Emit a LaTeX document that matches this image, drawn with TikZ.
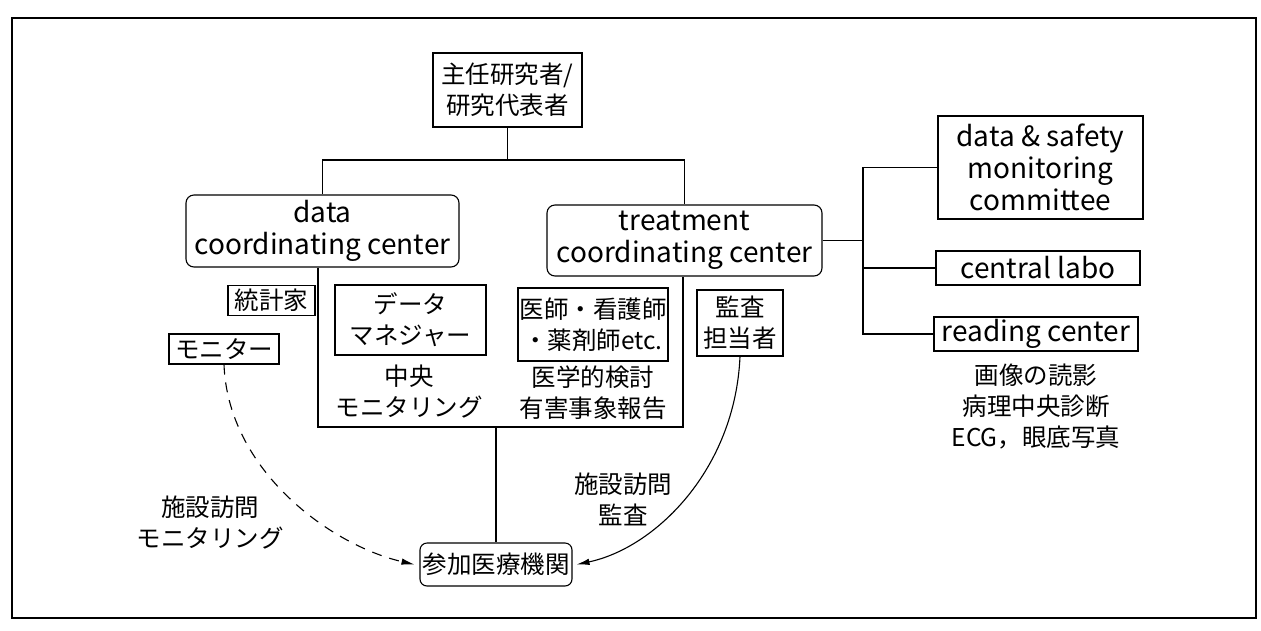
\documentclass[tikz,border=0pt]{standalone}
\usepackage{fontspec}
\setmainfont{Noto Sans CJK JP}
\usetikzlibrary{arrows.meta}
\begin{document}
\begin{tikzpicture}[x=1pt,y=-1pt, line width=1.1pt,
  jp/.style={font=\fontsize{24.5}{31}\selectfont},
  en/.style={font=\fontsize{28}{32}\selectfont},
  box/.style={draw, inner sep=0pt, align=center},
  rbox/.style={box, rounded corners=8pt},
  lbl/.style={inner sep=0pt, align=center},
  arr/.style={-{Latex[length=13pt,width=6.5pt]}}]
\useasboundingbox (0,0) rectangle (1261,630);
\draw (12,18) rectangle (1256,618);

\node[box,jp,minimum width=149pt,minimum height=74pt] (root) at (507.5,90) {主任研究者/\\研究代表者};
\node[rbox,en,minimum width=273pt,minimum height=72pt] (data) at (322.5,231) {data\\coordinating center};
\node[rbox,en,minimum width=275pt,minimum height=71pt] (treat) at (684.5,240.5) {treatment\\coordinating center};
\node[box,jp,minimum width=87pt,minimum height=30pt] (stat) at (271.5,300.5) {統計家};
\node[box,jp,minimum width=110pt,minimum height=30pt] (mon) at (224,349) {モニター};
\node[box,jp,minimum width=151pt,minimum height=70pt] (dm) at (410.5,320) {データ\\マネジャー};
\node[box,jp,minimum width=150pt,minimum height=73pt] (doc) at (593,324.5) {医師・看護師\\・薬剤師etc.};
\node[box,jp,minimum width=86pt,minimum height=66pt] (aud) at (740,323) {監査\\担当者};
\node[lbl,jp] (cm) at (409,392) {中央\\モニタリング};
\node[lbl,jp] (med) at (593,393) {医学的検討\\有害事象報告};
\node[rbox,jp,rounded corners=7pt,minimum width=152pt,minimum height=43pt] (site) at (496,564.5) {参加医療機関};
\node[box,en,minimum width=205pt,minimum height=103pt] (dsmc) at (1040.5,167.5) {data \& safety\\monitoring\\committee};
\node[box,en,minimum width=204pt,minimum height=34pt] (labo) at (1038,268) {central labo};
\node[box,en,minimum width=204pt,minimum height=34pt] (read) at (1036,334) {reading center};
\node[lbl,jp] (readtxt) at (1036,406) {画像の読影\\病理中央診断\\ECG，眼底写真};
\node[lbl,jp] (visL) at (210,522.5) {施設訪問\\モニタリング};
\node[lbl,jp] (visR) at (623,499) {施設訪問\\監査};

\coordinate (J) at (507.5,160);
\draw (root.south) -- (J);
\draw (data.north) |- (J) -| (treat.north);
\coordinate (bl) at (318,427);
\coordinate (br) at (683,427);
\draw (bl |- data.south) -- (bl) -- (br) -- (br |- treat.south);
\draw (site.north |- bl) -- (site.north);
\coordinate (bt) at (863,167.5);
\coordinate (bb) at (863,334);
\draw (treat.east) -- (treat.east -| bt);
\draw (dsmc.west) -- (bt) -- (bb) -- (read.west);
\draw (labo.west) -- (labo.west -| bt);
\draw[arr, dash pattern=on 10pt off 8pt] (mon.south) .. controls (228,470) and (330,545) .. ([xshift=-5pt]site.west);
\draw[arr] (aud.south) .. controls (735,470) and (655,548) .. ([xshift=4pt]site.east);
\end{tikzpicture}
\end{document}
